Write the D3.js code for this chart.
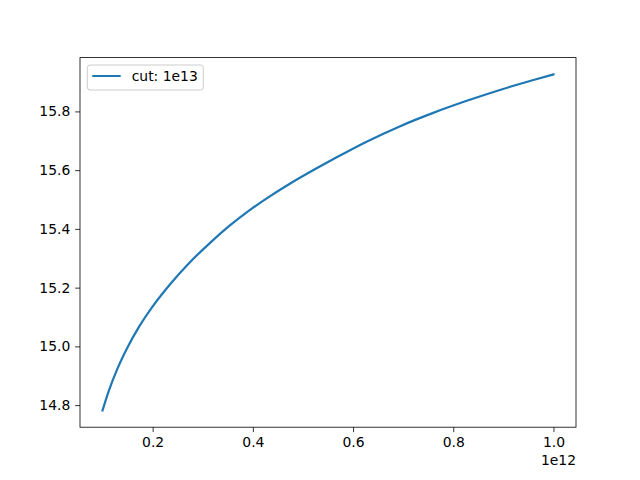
<!DOCTYPE html>
<html>
<head>
<meta charset="utf-8">
<script src="https://cdn.jsdelivr.net/npm/d3@7"></script>
<style>
  body { margin: 0; background: #fff; }
  text { font-family: "DejaVu Sans", sans-serif; }
</style>
</head>
<body>
<div id="chart"></div>
<script>
// values (x in units of 1e12)
var xValues = [0.1, 0.113, 0.13, 0.15, 0.173, 0.203, 0.237, 0.273, 0.313, 0.353, 0.393,
               0.433, 0.473, 0.53, 0.56, 0.627, 0.693, 0.76, 0.827, 0.893, 0.96, 1.0];
var yValues = [14.782, 14.851, 14.925, 14.997, 15.067, 15.143, 15.216, 15.284, 15.350, 15.410, 15.463,
               15.510, 15.553, 15.609, 15.637, 15.697, 15.749, 15.795, 15.836, 15.873, 15.907, 15.926];
var xTicks = [0.2, 0.4, 0.6, 0.8, 1.0];
var yTicks = [14.8, 15.0, 15.2, 15.4, 15.6, 15.8];
var seriesLabel = "cut: 1e13";
var xOffsetLabel = "1e12";

var svgWidth = 640;
var svgHeight = 480;

var margin = { top: 57.6, right: 64, bottom: 52.8, left: 80 };
var width = svgWidth - margin.left - margin.right;
var height = svgHeight - margin.top - margin.bottom;

var data = xValues.map(function(x, i) { return { x: x * 1e12, y: yValues[i] }; });

var svg = d3.select("#chart")
  .append("svg")
  .attr("width", svgWidth)
  .attr("height", svgHeight);

var chartGroup = svg.append("g")
  .attr("transform", `translate(${margin.left}, ${margin.top})`);

// matplotlib style 5% margins
var xExt = d3.extent(data, d => d.x);
var yExt = d3.extent(data, d => d.y);
var xPad = (xExt[1] - xExt[0]) * 0.05;
var yPad = (yExt[1] - yExt[0]) * 0.05;

var xScale = d3.scaleLinear()
  .domain([xExt[0] - xPad, xExt[1] + xPad])
  .range([0, width]);

var yScale = d3.scaleLinear()
  .domain([yExt[0] - yPad, yExt[1] + yPad])
  .range([height, 0]);

var bottomAxis = d3.axisBottom(xScale)
  .tickValues(xTicks.map(t => t * 1e12))
  .tickFormat(d => d3.format(".1f")(d / 1e12))
  .tickSize(4.86)
  .tickPadding(4.86);

var leftAxis = d3.axisLeft(yScale)
  .tickValues(yTicks)
  .tickFormat(d3.format(".1f"))
  .tickSize(4.86)
  .tickPadding(4.86);

var xAxisG = chartGroup.append("g")
  .attr("transform", `translate(0, ${height})`)
  .call(bottomAxis);

var yAxisG = chartGroup.append("g")
  .call(leftAxis);

[xAxisG, yAxisG].forEach(function(g) {
  g.select(".domain").remove();
  g.selectAll(".tick line").attr("stroke", "#000").attr("stroke-width", 0.8);
  g.selectAll(".tick text")
    .attr("fill", "#000")
    .style("font-size", "13.9px")
    .style("font-family", "'DejaVu Sans', sans-serif");
});

// line
var line = d3.line()
  .x(d => xScale(d.x))
  .y(d => yScale(d.y))
  .curve(d3.curveMonotoneX);

chartGroup.append("path")
  .datum(data)
  .attr("fill", "none")
  .attr("stroke", "#1f77b4")
  .attr("stroke-width", 2.2)
  .attr("stroke-linecap", "square")
  .attr("d", line);

// frame
chartGroup.append("rect")
  .attr("width", width)
  .attr("height", height)
  .attr("fill", "none")
  .attr("stroke", "#000")
  .attr("stroke-width", 0.8);

// offset text
chartGroup.append("text")
  .attr("x", width)
  .attr("y", height + 38)
  .attr("text-anchor", "end")
  .style("font-size", "13.9px")
  .text(xOffsetLabel);

// legend
var legend = chartGroup.append("g")
  .attr("transform", "translate(7.3, 7.4)");

legend.append("rect")
  .attr("width", 116)
  .attr("height", 25)
  .attr("rx", 2.8)
  .attr("fill", "#fff")
  .attr("fill-opacity", 0.8)
  .attr("stroke", "#cccccc")
  .attr("stroke-width", 1);

legend.append("line")
  .attr("x1", 5)
  .attr("x2", 33.4)
  .attr("y1", 11)
  .attr("y2", 11)
  .attr("stroke", "#1f77b4")
  .attr("stroke-width", 2);

legend.append("text")
  .attr("x", 44.4)
  .attr("y", 16)
  .style("font-size", "13.9px")
  .text(seriesLabel);
</script>
</body>
</html>
